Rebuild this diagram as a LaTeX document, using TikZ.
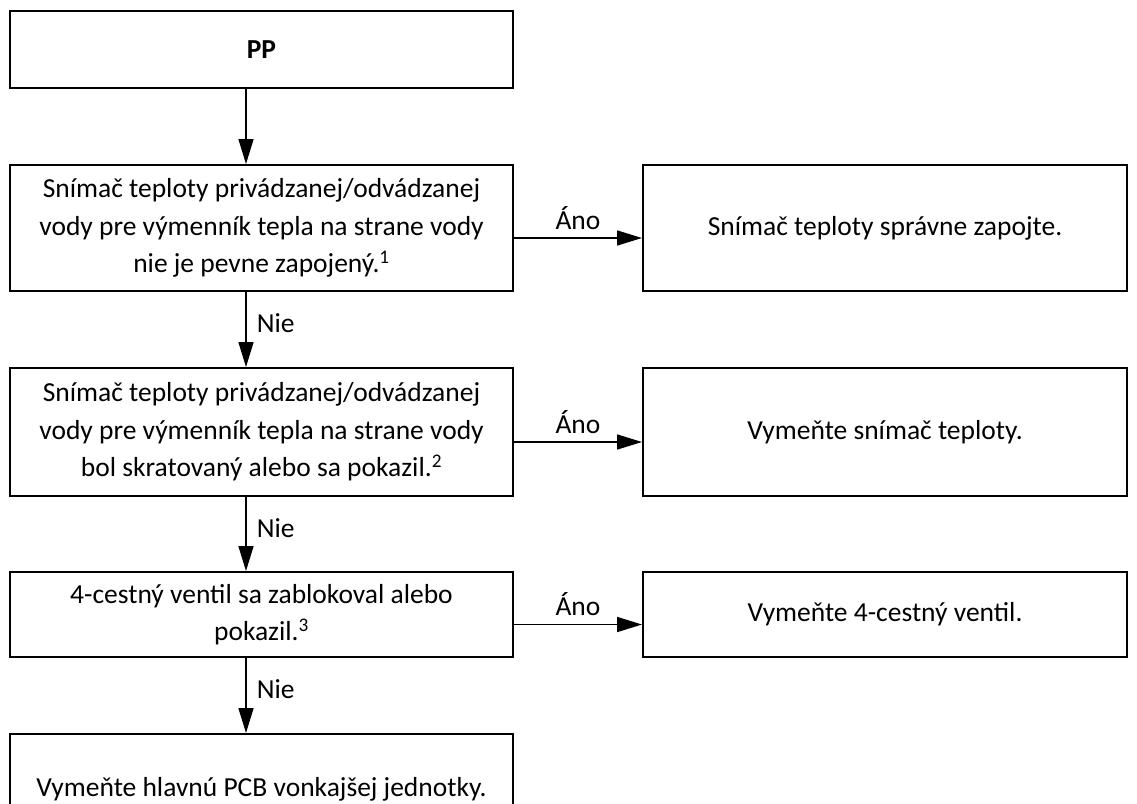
\documentclass[tikz,border=0pt]{standalone}
\usepackage{fontspec}
\setmainfont{Carlito}
\usepackage{tikz}
\usetikzlibrary{arrows.meta,positioning}

\begin{document}
\begin{tikzpicture}[x=1pt, y=-1pt,
      qbox/.style={draw, line width=2pt, minimum width=503pt, inner sep=0pt, align=center, font=\fontsize{27.5}{37.5}\selectfont},
      abox/.style={draw, line width=2pt, minimum width=484pt, inner sep=0pt, align=center, font=\fontsize{27.5}{37.5}\selectfont},
      flow/.style={line width=1.6pt, -{Triangle[length=25pt,width=15pt]}},
      lbl/.style={font=\fontsize{27.5}{32}\selectfont, inner sep=3pt}
    ]
      \useasboundingbox (0,0) rectangle (1137,803);

      \node[qbox, minimum height=77pt] (pp) at (261.5, 49.5) {\bfseries PP};

      \node[qbox, minimum height=126pt] (q1) at (261.5, 228) {
        Snímač teploty privádzanej/odvádzanej\\
        vody pre výmenník tepla na strane vody\\
        nie je pevne zapojený.\textsuperscript{1}
      };
      \node[abox, minimum height=126pt] (a1) at (885, 228) {Snímač teploty správne zapojte.};

      \node[qbox, minimum height=128pt] (q2) at (261.5, 432) {
        Snímač teploty privádzanej/odvádzanej\\
        vody pre výmenník tepla na strane vody\\
        bol skratovaný alebo sa pokazil.\textsuperscript{2}
      };
      \node[abox, minimum height=128pt] (a2) at (885, 432) {Vymeňte snímač teploty.};

      \node[qbox, minimum height=85pt] (q3) at (261.5, 614.5) {
        4-cestný ventil sa zablokoval alebo\\
        pokazil.\textsuperscript{3}
      };
      \node[abox, minimum height=85pt] (a3) at (885, 614.5) {Vymeňte 4-cestný ventil.};

      \node[qbox, minimum height=110pt] (fin) at (261.5, 789) {Vymeňte hlavnú PCB vonkajšej jednotky.};

      % vertical flow
      \draw[flow] ([xshift=-15.5pt]pp.south) -- ([xshift=-15.5pt]q1.north);
      \draw[flow] ([xshift=-15.5pt]q1.south) -- node[lbl, pos=0.42, right=7pt] {Nie} ([xshift=-15.5pt]q2.north);
      \draw[flow] ([xshift=-15.5pt]q2.south) -- node[lbl, pos=0.42, right=7pt] {Nie} ([xshift=-15.5pt]q3.north);
      \draw[flow] ([xshift=-15.5pt]q3.south) -- node[lbl, pos=0.42, right=7pt] {Nie} ([xshift=-15.5pt]fin.north);

      % yes branches
      \draw[flow] ([yshift=-10pt]q1.east) -- node[lbl, above=5pt] {Áno} ([yshift=-10pt]a1.west);
      \draw[flow] ([yshift=-10pt]q2.east) -- node[lbl, above=5pt] {Áno} ([yshift=-10pt]a2.west);
      \draw[flow] ([yshift=-10pt]q3.east) -- node[lbl, above=5pt] {Áno} ([yshift=-10pt]a3.west);
    \end{tikzpicture}
\end{document}
